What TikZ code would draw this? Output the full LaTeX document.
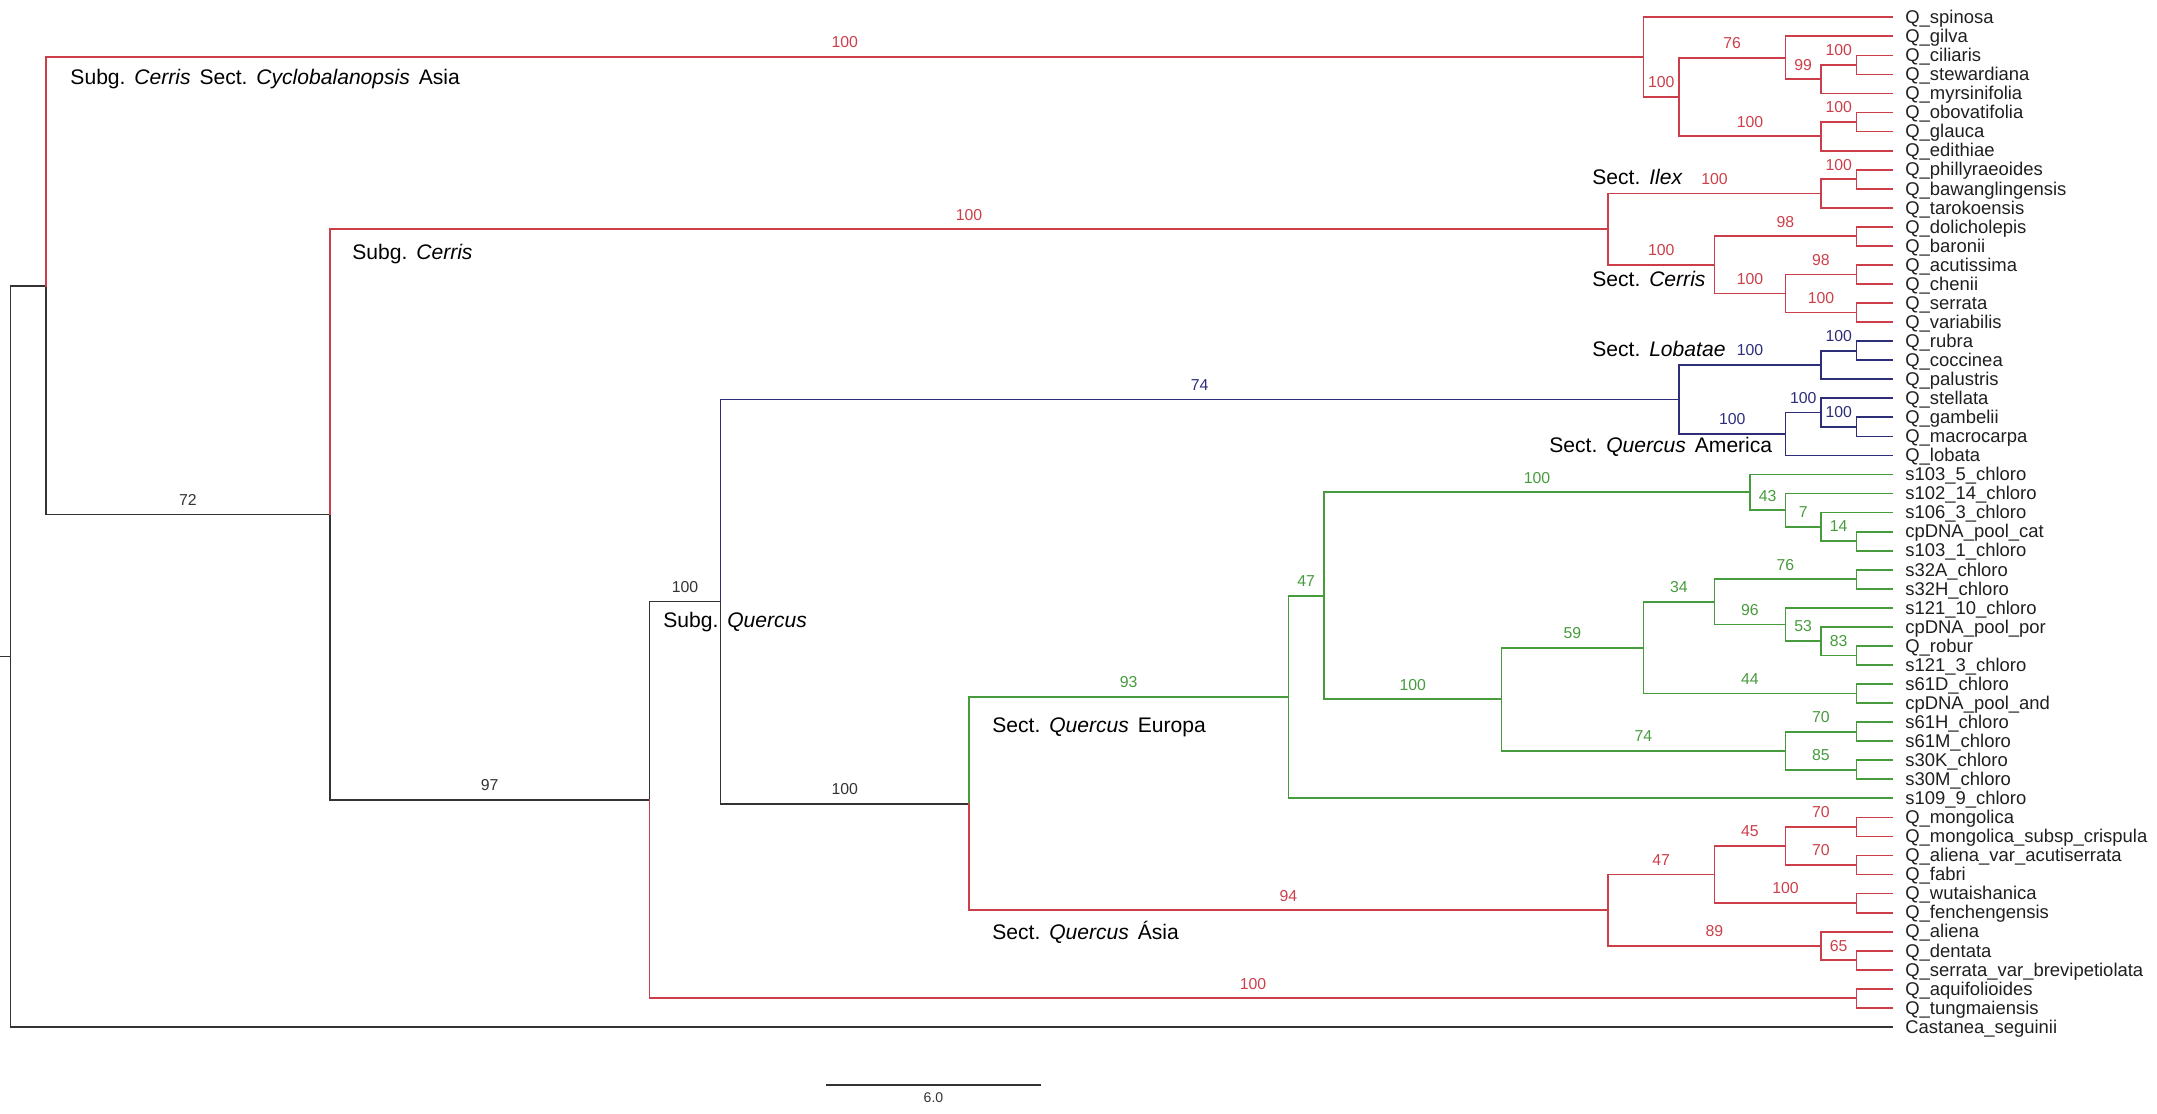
\documentclass[tikz,border=0pt]{standalone}
\usepackage{fontspec}
\setmainfont{Liberation Sans}
\usepackage{xcolor}
\usetikzlibrary{positioning}
\definecolor{qtRed}{HTML}{CC3F4A}
\definecolor{qtBlue}{HTML}{2D2D78}
\definecolor{qtGreen}{HTML}{469B3C}
\definecolor{qtBlack}{HTML}{333333}
\newcommand{\qsp}{\hspace{0.42em}}
\tikzset{
  qt-branch/.style={line width=1pt, line cap=rect},
  qt-red/.style={qt-branch, qtRed},
  qt-blue/.style={qt-branch, qtBlue},
  qt-green/.style={qt-branch, qtGreen},
  qt-black/.style={qt-branch, qtBlack},
  qt-bs/.style={
    pos=0.75, yshift=0.31cm, inner sep=0,
    text height=0.716em, text depth=0pt,
    font=\fontsize{9}{9}\selectfont
  },
  qt-tip/.style={
    anchor=west, inner xsep=0.26cm, inner ysep=0,
    text height=0.716em, text depth=0pt, text=black!88,
    font=\fontsize{10.5}{10.5}\selectfont
  },
  qt-clade/.style={
    anchor=west, inner sep=0, text height=0.716em, text depth=0pt,
    text=black, font=\fontsize{12}{12}\selectfont
  },
}

\begin{document}
\begin{tikzpicture}[x=0.71cm, y=-0.381cm]
  \useasboundingbox (-53.296,0.092) rectangle (7.465,58.57);

  % tips
  \node[qt-tip] (spinosa)        at (0,1)  {Q\_spinosa};
  \node[qt-tip] (gilva)          at (0,2)  {Q\_gilva};
  \node[qt-tip] (ciliaris)       at (0,3)  {Q\_ciliaris};
  \node[qt-tip] (stewardiana)    at (0,4)  {Q\_stewardiana};
  \node[qt-tip] (myrsinifolia)   at (0,5)  {Q\_myrsinifolia};
  \node[qt-tip] (obovatifolia)   at (0,6)  {Q\_obovatifolia};
  \node[qt-tip] (glauca)         at (0,7)  {Q\_glauca};
  \node[qt-tip] (edithiae)       at (0,8)  {Q\_edithiae};
  \node[qt-tip] (phillyraeoides) at (0,9)  {Q\_phillyraeoides};
  \node[qt-tip] (bawanglingensis) at (0,10) {Q\_bawanglingensis};
  \node[qt-tip] (tarokoensis)    at (0,11) {Q\_tarokoensis};
  \node[qt-tip] (dolicholepis)   at (0,12) {Q\_dolicholepis};
  \node[qt-tip] (baronii)        at (0,13) {Q\_baronii};
  \node[qt-tip] (acutissima)     at (0,14) {Q\_acutissima};
  \node[qt-tip] (chenii)         at (0,15) {Q\_chenii};
  \node[qt-tip] (serrata)        at (0,16) {Q\_serrata};
  \node[qt-tip] (variabilis)     at (0,17) {Q\_variabilis};
  \node[qt-tip] (rubra)          at (0,18) {Q\_rubra};
  \node[qt-tip] (coccinea)       at (0,19) {Q\_coccinea};
  \node[qt-tip] (palustris)      at (0,20) {Q\_palustris};
  \node[qt-tip] (stellata)       at (0,21) {Q\_stellata};
  \node[qt-tip] (gambelii)       at (0,22) {Q\_gambelii};
  \node[qt-tip] (macrocarpa)     at (0,23) {Q\_macrocarpa};
  \node[qt-tip] (lobata)         at (0,24) {Q\_lobata};
  \node[qt-tip] (s103-5)         at (0,25) {s103\_5\_chloro};
  \node[qt-tip] (s102-14)        at (0,26) {s102\_14\_chloro};
  \node[qt-tip] (s106-3)         at (0,27) {s106\_3\_chloro};
  \node[qt-tip] (pool-cat)       at (0,28) {cpDNA\_pool\_cat};
  \node[qt-tip] (s103-1)         at (0,29) {s103\_1\_chloro};
  \node[qt-tip] (s32A)           at (0,30) {s32A\_chloro};
  \node[qt-tip] (s32H)           at (0,31) {s32H\_chloro};
  \node[qt-tip] (s121-10)        at (0,32) {s121\_10\_chloro};
  \node[qt-tip] (pool-por)       at (0,33) {cpDNA\_pool\_por};
  \node[qt-tip] (robur)          at (0,34) {Q\_robur};
  \node[qt-tip] (s121-3)         at (0,35) {s121\_3\_chloro};
  \node[qt-tip] (s61D)           at (0,36) {s61D\_chloro};
  \node[qt-tip] (pool-and)       at (0,37) {cpDNA\_pool\_and};
  \node[qt-tip] (s61H)           at (0,38) {s61H\_chloro};
  \node[qt-tip] (s61M)           at (0,39) {s61M\_chloro};
  \node[qt-tip] (s30K)           at (0,40) {s30K\_chloro};
  \node[qt-tip] (s30M)           at (0,41) {s30M\_chloro};
  \node[qt-tip] (s109-9)         at (0,42) {s109\_9\_chloro};
  \node[qt-tip] (mongolica)      at (0,43) {Q\_mongolica};
  \node[qt-tip] (crispula)       at (0,44) {Q\_mongolica\_subsp\_crispula};
  \node[qt-tip] (acutiserrata)   at (0,45) {Q\_aliena\_var\_acutiserrata};
  \node[qt-tip] (fabri)          at (0,46) {Q\_fabri};
  \node[qt-tip] (wutaishanica)   at (0,47) {Q\_wutaishanica};
  \node[qt-tip] (fenchengensis)  at (0,48) {Q\_fenchengensis};
  \node[qt-tip] (aliena)         at (0,49) {Q\_aliena};
  \node[qt-tip] (dentata)        at (0,50) {Q\_dentata};
  \node[qt-tip] (brevipetiolata) at (0,51) {Q\_serrata\_var\_brevipetiolata};
  \node[qt-tip] (aquifolioides)  at (0,52) {Q\_aquifolioides};
  \node[qt-tip] (tungmaiensis)   at (0,53) {Q\_tungmaiensis};
  \node[qt-tip] (castanea)       at (0,54) {Castanea\_seguinii};

  % internal nodes
  \coordinate (base)  at (-53.3,34.550);
  \coordinate (root)  at (-53,34.550);
  \coordinate (ingrp) at (-52,15.100);
  \coordinate (cyc)   at (-7,3.094);
  \coordinate (cyc2)  at (-6,5.188);
  \coordinate (cyc3)  at (-3,3.125);
  \coordinate (cyc4)  at (-2,4.25);
  \coordinate (cyc5)  at (-1,3.5);
  \coordinate (cyc6)  at (-2,7.25);
  \coordinate (cyc7)  at (-1,6.5);
  \coordinate (cq)    at (-44,27.105);
  \coordinate (cer)   at (-8,12.125);
  \coordinate (ilex)  at (-2,10.25);
  \coordinate (ilex2) at (-1,9.5);
  \coordinate (scer)  at (-5,14);
  \coordinate (scer1) at (-1,12.5);
  \coordinate (scer2) at (-3,15.5);
  \coordinate (scer3) at (-1,14.5);
  \coordinate (scer4) at (-1,16.5);
  \coordinate (qall)  at (-35,42.086);
  \coordinate (aqu)   at (-1,52.5);
  \coordinate (quer)  at (-33,31.671);
  \coordinate (amer)  at (-6,21.063);
  \coordinate (lob)   at (-2,19.25);
  \coordinate (lob2)  at (-1,18.5);
  \coordinate (qam)   at (-3,22.875);
  \coordinate (qam2)  at (-2,21.75);
  \coordinate (qam3)  at (-1,22.5);
  \coordinate (eua)   at (-26,42.279);
  \coordinate (eur)   at (-17,36.684);
  \coordinate (eur2)  at (-16,31.367);
  \coordinate (eu-a1) at (-4,25.938);
  \coordinate (eu-a2) at (-3,26.875);
  \coordinate (eu-a3) at (-2,27.75);
  \coordinate (eu-a4) at (-1,28.5);
  \coordinate (eu-b)  at (-11,36.797);
  \coordinate (eu-c)  at (-7,34.094);
  \coordinate (eu-d)  at (-5,31.688);
  \coordinate (eu-d1) at (-1,30.5);
  \coordinate (eu-e)  at (-3,32.875);
  \coordinate (eu-e2) at (-2,33.75);
  \coordinate (eu-e3) at (-1,34.5);
  \coordinate (eu-f)  at (-1,36.5);
  \coordinate (eu-g)  at (-3,39.5);
  \coordinate (eu-g1) at (-1,38.5);
  \coordinate (eu-g2) at (-1,40.5);
  \coordinate (asia)  at (-8,47.875);
  \coordinate (as-a)  at (-5,46);
  \coordinate (as-b)  at (-3,44.5);
  \coordinate (as-b1) at (-1,43.5);
  \coordinate (as-b2) at (-1,45.5);
  \coordinate (as-c)  at (-1,47.5);
  \coordinate (as-d)  at (-2,49.75);
  \coordinate (as-d2) at (-1,50.5);

  % backbone
  \draw[qt-black] (base) -- (root);
  \draw[qt-black] (root) |- (ingrp);
  \draw[qt-black] (root) |- (castanea.west);
  \draw[qt-black] (ingrp) |- (cq) node[qt-bs] {72};
  \draw[qt-black] (cq) |- (qall) node[qt-bs] {97};
  \draw[qt-black] (qall) |- (quer) node[qt-bs] {100};
  \draw[qt-black] (quer) |- (eua) node[qt-bs] {100};

  % Cyclobalanopsis
  \draw[qt-red] (ingrp) |- (cyc) node[qt-bs] {100};
  \draw[qt-red] (cyc) |- (spinosa.west);
  \draw[qt-red] (cyc) |- (cyc2) node[qt-bs] {100};
  \draw[qt-red] (cyc2) |- (cyc3) node[qt-bs] {76};
  \draw[qt-red] (cyc3) |- (gilva.west);
  \draw[qt-red] (cyc3) |- (cyc4) node[qt-bs] {99};
  \draw[qt-red] (cyc4) |- (cyc5) node[qt-bs] {100};
  \draw[qt-red] (cyc5) |- (ciliaris.west);
  \draw[qt-red] (cyc5) |- (stewardiana.west);
  \draw[qt-red] (cyc4) |- (myrsinifolia.west);
  \draw[qt-red] (cyc2) |- (cyc6) node[qt-bs] {100};
  \draw[qt-red] (cyc6) |- (cyc7) node[qt-bs] {100};
  \draw[qt-red] (cyc7) |- (obovatifolia.west);
  \draw[qt-red] (cyc7) |- (glauca.west);
  \draw[qt-red] (cyc6) |- (edithiae.west);

  % Ilex and Cerris
  \draw[qt-red] (cq) |- (cer) node[qt-bs] {100};
  \draw[qt-red] (cer) |- (ilex) node[qt-bs] {100};
  \draw[qt-red] (ilex) |- (ilex2) node[qt-bs] {100};
  \draw[qt-red] (ilex2) |- (phillyraeoides.west);
  \draw[qt-red] (ilex2) |- (bawanglingensis.west);
  \draw[qt-red] (ilex) |- (tarokoensis.west);
  \draw[qt-red] (cer) |- (scer) node[qt-bs] {100};
  \draw[qt-red] (scer) |- (scer1) node[qt-bs] {98};
  \draw[qt-red] (scer1) |- (dolicholepis.west);
  \draw[qt-red] (scer1) |- (baronii.west);
  \draw[qt-red] (scer) |- (scer2) node[qt-bs] {100};
  \draw[qt-red] (scer2) |- (scer3) node[qt-bs] {98};
  \draw[qt-red] (scer3) |- (acutissima.west);
  \draw[qt-red] (scer3) |- (chenii.west);
  \draw[qt-red] (scer2) |- (scer4) node[qt-bs] {100};
  \draw[qt-red] (scer4) |- (serrata.west);
  \draw[qt-red] (scer4) |- (variabilis.west);

  % Lobatae and Quercus America
  \draw[qt-blue] (quer) |- (amer) node[qt-bs] {74};
  \draw[qt-blue] (amer) |- (lob) node[qt-bs] {100};
  \draw[qt-blue] (lob) |- (lob2) node[qt-bs] {100};
  \draw[qt-blue] (lob2) |- (rubra.west);
  \draw[qt-blue] (lob2) |- (coccinea.west);
  \draw[qt-blue] (lob) |- (palustris.west);
  \draw[qt-blue] (amer) |- (qam) node[qt-bs] {100};
  \draw[qt-blue] (qam) |- (qam2) node[qt-bs] {100};
  \draw[qt-blue] (qam2) |- (stellata.west);
  \draw[qt-blue] (qam2) |- (qam3) node[qt-bs] {100};
  \draw[qt-blue] (qam3) |- (gambelii.west);
  \draw[qt-blue] (qam3) |- (macrocarpa.west);
  \draw[qt-blue] (qam) |- (lobata.west);

  % Quercus Europa
  \draw[qt-green] (eua) |- (eur) node[qt-bs] {93};
  \draw[qt-green] (eur) |- (eur2) node[qt-bs] {47};
  \draw[qt-green] (eur) |- (s109-9.west);
  \draw[qt-green] (eur2) |- (eu-a1) node[qt-bs] {100};
  \draw[qt-green] (eu-a1) |- (s103-5.west);
  \draw[qt-green] (eu-a1) |- (eu-a2) node[qt-bs] {43};
  \draw[qt-green] (eu-a2) |- (s102-14.west);
  \draw[qt-green] (eu-a2) |- (eu-a3) node[qt-bs] {7};
  \draw[qt-green] (eu-a3) |- (s106-3.west);
  \draw[qt-green] (eu-a3) |- (eu-a4) node[qt-bs] {14};
  \draw[qt-green] (eu-a4) |- (pool-cat.west);
  \draw[qt-green] (eu-a4) |- (s103-1.west);
  \draw[qt-green] (eur2) |- (eu-b) node[qt-bs] {100};
  \draw[qt-green] (eu-b) |- (eu-c) node[qt-bs] {59};
  \draw[qt-green] (eu-c) |- (eu-d) node[qt-bs] {34};
  \draw[qt-green] (eu-d) |- (eu-d1) node[qt-bs] {76};
  \draw[qt-green] (eu-d1) |- (s32A.west);
  \draw[qt-green] (eu-d1) |- (s32H.west);
  \draw[qt-green] (eu-d) |- (eu-e) node[qt-bs] {96};
  \draw[qt-green] (eu-e) |- (s121-10.west);
  \draw[qt-green] (eu-e) |- (eu-e2) node[qt-bs] {53};
  \draw[qt-green] (eu-e2) |- (pool-por.west);
  \draw[qt-green] (eu-e2) |- (eu-e3) node[qt-bs] {83};
  \draw[qt-green] (eu-e3) |- (robur.west);
  \draw[qt-green] (eu-e3) |- (s121-3.west);
  \draw[qt-green] (eu-c) |- (eu-f) node[qt-bs] {44};
  \draw[qt-green] (eu-f) |- (s61D.west);
  \draw[qt-green] (eu-f) |- (pool-and.west);
  \draw[qt-green] (eu-b) |- (eu-g) node[qt-bs] {74};
  \draw[qt-green] (eu-g) |- (eu-g1) node[qt-bs] {70};
  \draw[qt-green] (eu-g1) |- (s61H.west);
  \draw[qt-green] (eu-g1) |- (s61M.west);
  \draw[qt-green] (eu-g) |- (eu-g2) node[qt-bs] {85};
  \draw[qt-green] (eu-g2) |- (s30K.west);
  \draw[qt-green] (eu-g2) |- (s30M.west);

  % Quercus Asia
  \draw[qt-red] (eua) |- (asia) node[qt-bs] {94};
  \draw[qt-red] (asia) |- (as-a) node[qt-bs] {47};
  \draw[qt-red] (as-a) |- (as-b) node[qt-bs] {45};
  \draw[qt-red] (as-b) |- (as-b1) node[qt-bs] {70};
  \draw[qt-red] (as-b1) |- (mongolica.west);
  \draw[qt-red] (as-b1) |- (crispula.west);
  \draw[qt-red] (as-b) |- (as-b2) node[qt-bs] {70};
  \draw[qt-red] (as-b2) |- (acutiserrata.west);
  \draw[qt-red] (as-b2) |- (fabri.west);
  \draw[qt-red] (as-a) |- (as-c) node[qt-bs] {100};
  \draw[qt-red] (as-c) |- (wutaishanica.west);
  \draw[qt-red] (as-c) |- (fenchengensis.west);
  \draw[qt-red] (asia) |- (as-d) node[qt-bs] {89};
  \draw[qt-red] (as-d) |- (aliena.west);
  \draw[qt-red] (as-d) |- (as-d2) node[qt-bs] {65};
  \draw[qt-red] (as-d2) |- (dentata.west);
  \draw[qt-red] (as-d2) |- (brevipetiolata.west);
  \draw[qt-red] (qall) |- (aqu) node[qt-bs] {100};
  \draw[qt-red] (aqu) |- (aquifolioides.west);
  \draw[qt-red] (aqu) |- (tungmaiensis.west);

  % clade names
  \node[qt-clade] (lab-cyc) at (-51.32,4.19)
    {Subg.\qsp\textit{Cerris}\qsp Sect.\qsp\textit{Cyclobalanopsis}\qsp Asia};
  \node[qt-clade] (lab-cer) at (-43.38,13.37) {Subg.\qsp\textit{Cerris}};
  \node[qt-clade] (lab-ilex) at (-8.45,9.44) {Sect.\qsp\textit{Ilex}};
  \node[qt-clade] (lab-scer) at (-8.45,14.79) {Sect.\qsp\textit{Cerris}};
  \node[qt-clade] (lab-lob) at (-8.45,18.46) {Sect.\qsp\textit{Lobatae}};
  \node[qt-clade] (lab-qam) at (-9.66,23.50) {Sect.\qsp\textit{Quercus}\qsp America};
  \node[qt-clade] (lab-quer) at (-34.62,32.69) {Subg.\qsp\textit{Quercus}};
  \node[qt-clade] (lab-eur) at (-25.35,38.20) {Sect.\qsp\textit{Quercus}\qsp Europa};
  \node[qt-clade] (lab-asia) at (-25.35,49.07) {Sect.\qsp\textit{Quercus}\qsp Ásia};

  % scale bar
  \coordinate (sb-l) at (-30,57.05);
  \coordinate (sb-r) at (-24,57.05);
  \draw[qt-black] (sb-l) -- (sb-r)
    node[midway, below=4pt, inner sep=0, font=\fontsize{8}{8}\selectfont] (sb-lab) {6.0};

\end{tikzpicture}
\end{document}
